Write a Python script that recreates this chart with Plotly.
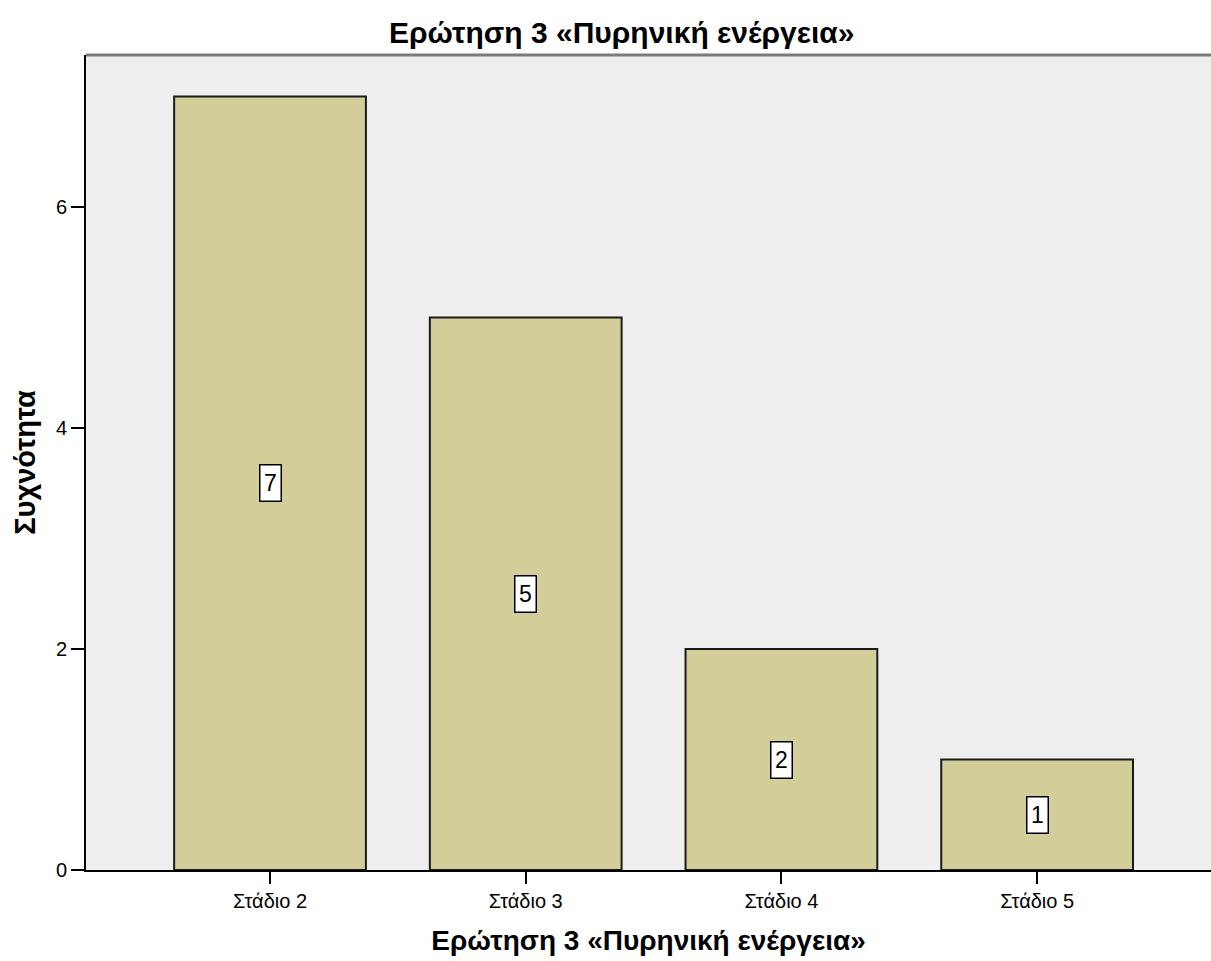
import plotly.graph_objects as go

categories = ["Στάδιο 2", "Στάδιο 3", "Στάδιο 4", "Στάδιο 5"]
counts = [7, 5, 2, 1]
y_ticks = [0, 2, 4, 6]
title_text = "Ερώτηση 3 «Πυρηνική ενέργεια»"
x_title = "Ερώτηση 3 «Πυρηνική ενέργεια»"
y_title = "Συχνότητα"

FONT = "Liberation Sans, Arial, sans-serif"

W, H = 1211, 961
L, R, T, B = 86, 0, 55, 91
plot_w = W - L - R
plot_h = H - T - B

fig = go.Figure()
fig.add_trace(go.Bar(
    x=list(range(len(categories))),
    y=counts,
    width=0.75,
    marker=dict(color="#D3CE99", line=dict(color="#1a1a1a", width=2)),
    hoverinfo="skip",
))

for i, v in enumerate(counts):
    fig.add_annotation(
        x=i, y=v / 2, xref="x", yref="y",
        text=str(v), showarrow=False,
        font=dict(family=FONT, size=23, color="black"),
        bgcolor="white", bordercolor="black", borderwidth=1.5, borderpad=2,
        width=16, height=31,
    )

# title
fig.add_annotation(
    x=(622 - L) / plot_w, y=1 + (T - 33) / plot_h,
    xref="paper", yref="paper", xanchor="center", yanchor="middle",
    text="<b>" + title_text + "</b>", showarrow=False,
    font=dict(family=FONT, size=30, color="black"),
)

fig.update_layout(
    width=W, height=H,
    margin=dict(l=L, r=R, t=T, b=B),
    paper_bgcolor="white",
    plot_bgcolor="#EFEFEF",
    showlegend=False,
    font=dict(family=FONT, color="black"),
    xaxis=dict(
        range=[-0.7197, 3.68],
        tickvals=list(range(len(categories))),
        ticktext=categories,
        ticks="outside", ticklen=12, tickwidth=2, tickcolor="black",
        showline=True, linecolor="black", linewidth=2,
        showgrid=False, zeroline=False,
        tickfont=dict(family=FONT, size=20, color="black"),
        title=dict(text="<b>" + x_title + "</b>", font=dict(family=FONT, size=28, color="black"), standoff=19),
    ),
    yaxis=dict(
        range=[0, 7.376],
        tickvals=y_ticks,
        ticks="outside", ticklen=13, tickwidth=2, tickcolor="black",
        showline=True, linecolor="black", linewidth=2,
        showgrid=False, zeroline=False,
        tickfont=dict(family=FONT, size=20, color="black"),
        title=dict(text="<b>" + y_title + "</b>", font=dict(family=FONT, size=29, color="black"), standoff=12),
    ),
)

# gray top border of plot area
fig.add_shape(type="line", xref="paper", yref="paper", x0=0, x1=1, y0=1, y1=1,
              line=dict(color="#7a7a7a", width=3))

fig.write_html("out.html")
